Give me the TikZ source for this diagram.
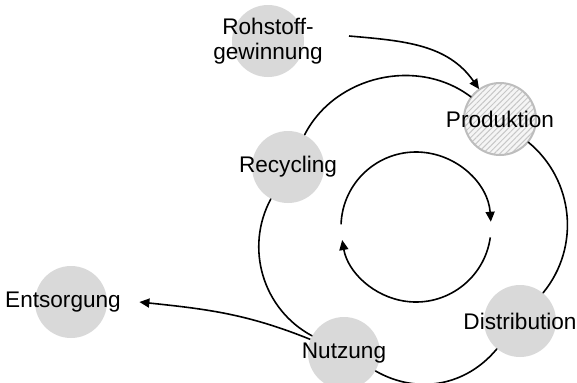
\documentclass[tikz,border=0pt]{standalone}
\usepackage{fontspec}
\setmainfont{Liberation Sans}
\usepackage{tikz}
\usetikzlibrary{patterns,patterns.meta,arrows.meta}
\definecolor{stage gray}{rgb}{0.85, 0.85, 0.85}
\definecolor{rim gray}{rgb}{0.74, 0.74, 0.74}
\definecolor{hatch gray}{rgb}{0.78, 0.78, 0.78}

\begin{document}
\begin{tikzpicture}[x = 0.5pt, y = 0.5pt,
		font = \fontsize{11.3}{12.5}\selectfont,
		stage/.style = {circle, fill = stage gray, minimum size = 36pt, inner sep = 0pt},
		ring/.style = {thick, line cap = round},
		flow/.style = {thick, -{Triangle[length = 5pt, width = 4.5pt]}}]
			\useasboundingbox (0, 0) rectangle (577, 382);
			% stages of the life cycle
			\node[stage, label = {[align = center]center:Rohstoff-\\gewinnung}] (roh) at (268, 341) {};
			\node[stage, draw = rim gray, line width = 1pt, preaction = {fill = gray!8},
				pattern = {Lines[angle = 45, distance = 2pt, line width = 0.5pt]}, pattern color = hatch gray,
				label = {center:Produktion}] (prod) at (500, 263) {};
			\node[stage, label = {center:Recycling}] (rec) at (288, 215) {};
			\node[stage, label = {center:Distribution}] (dist) at (520, 61) {};
			\node[stage, label = {center:Nutzung}] (nutz) at (344, 29) {};
			\node[stage, label = {[xshift = -4pt]center:Entsorgung}] (ents) at (71, 80) {};
			\coordinate (rohout) at (349, 346);
			\coordinate (inner) at (416, 155);
			% outer ring
			\draw[ring] (rec) to[bend left = 50] (prod);
			\draw[ring] (prod) to[bend left = 45] (dist);
			\draw[ring] (dist) to[bend left = 40] (nutz);
			\draw[ring] (nutz) to[bend left = 45] (rec);
			% in and out
			\draw[flow] (rohout) to[out = -5, in = 125] (prod);
			\draw[flow] (nutz) to[out = 158, in = -6] ([xshift = 16pt]ents.east);
			% inner loop
			\draw[flow] ([shift = {(178:75)}]inner) arc[start angle = 178, end angle = 4, radius = 75];
			\draw[flow] ([shift = {(-8:75)}]inner) arc[start angle = -8, end angle = -170, radius = 75];
		\end{tikzpicture}
\end{document}
